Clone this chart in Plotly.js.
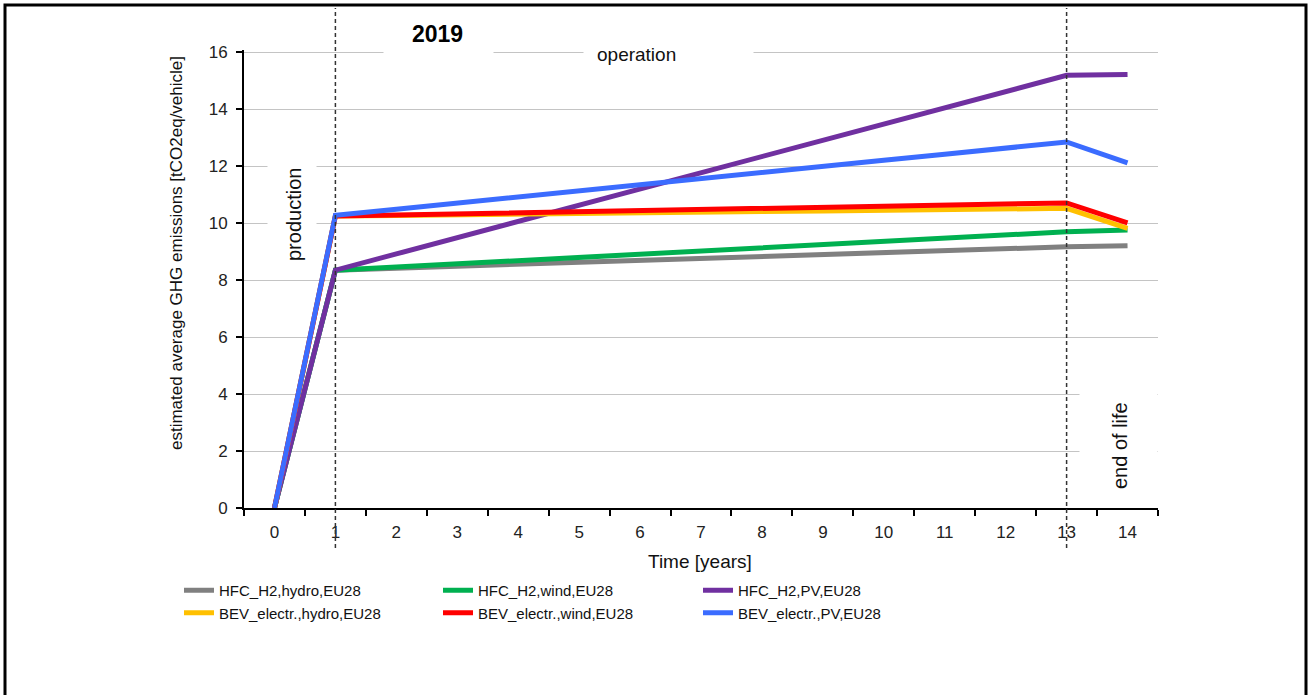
<!DOCTYPE html>
<html>
<head>
<meta charset="utf-8">
<script src="https://cdn.plot.ly/plotly-3.0.1.min.js"></script>
<style>
html,body{margin:0;padding:0;background:#fff;}
#chart{width:1309px;height:695px;}
</style>
</head>
<body>
<div id="chart"></div>
<script>
// ---- data ----
const years = ["0","1","2","3","4","5","6","7","8","9","10","11","12","13","14"];
const hfcHydro = [0, 8.35, 8.42, 8.49, 8.55, 8.62, 8.69, 8.76, 8.82, 8.89, 8.96, 9.03, 9.10, 9.17, 9.21];
const hfcWind  = [0, 8.35, 8.46, 8.57, 8.69, 8.80, 8.91, 9.02, 9.14, 9.25, 9.36, 9.47, 9.59, 9.70, 9.76];
const hfcPV    = [0, 8.35, 8.92, 9.49, 10.06, 10.63, 11.20, 11.77, 12.34, 12.91, 13.48, 14.05, 14.62, 15.19, 15.22];
const bevHydro = [0, 10.25, 10.27, 10.30, 10.32, 10.34, 10.36, 10.39, 10.41, 10.43, 10.45, 10.48, 10.50, 10.52, 9.82];
const bevWind  = [0, 10.25, 10.29, 10.33, 10.37, 10.40, 10.44, 10.48, 10.52, 10.56, 10.60, 10.63, 10.67, 10.71, 10.01];
const bevPV    = [0, 10.28, 10.49, 10.71, 10.92, 11.14, 11.35, 11.56, 11.78, 11.99, 12.21, 12.42, 12.64, 12.85, 12.12];
const seriesNames = ["HFC_H2,hydro,EU28","HFC_H2,wind,EU28","HFC_H2,PV,EU28",
                     "BEV_electr.,hydro,EU28","BEV_electr.,wind,EU28","BEV_electr.,PV,EU28"];
const yTicks = [0,2,4,6,8,10,12,14,16];
const phaseMarks = ["1","13"];
const chartTitle = "2019";
const phaseLabels = ["production","operation","end of life"];
const yTitle = "estimated average GHG emissions [tCO2eq/vehicle]";
const xTitle = "Time [years]";

// ---- geometry helpers (pixel -> paper) ----
const W = 1309, H = 695, L = 244, R = 151, T = 50, B = 187;
const PW = W - L - R, PH = H - T - B;
const px = v => (v - L) / PW;
const py = v => (H - B - v) / PH;

const FONT = "Liberation Sans, Arial, sans-serif";
const colors = ["#808080","#00b050","#7030a0","#ffc000","#ff0000","#3b6cff"];
const data = [hfcHydro,hfcWind,hfcPV,bevHydro,bevWind,bevPV];
const legendOf = ["legend","legend2","legend3","legend","legend2","legend3"];

const traces = data.map((d,i)=>({
  type:"scatter", mode:"lines", x: years, y: d, name: seriesNames[i],
  line:{color:colors[i], width:5}, legend: legendOf[i], hoverinfo:"skip"
}));

const shapes = [];
phaseMarks.forEach(m=>{
  shapes.push({type:"line", xref:"x", yref:"paper", x0:years.indexOf(m), x1:years.indexOf(m),
    y0:py(548), y1:py(8), line:{color:"#333", width:1.5, dash:"4px,3px"}, layer:"above"});
});
// outer frame
shapes.push({type:"rect", xref:"paper", yref:"paper", x0:px(5), x1:px(1306), y0:py(705), y1:py(5),
  line:{color:"#000", width:3}, fillcolor:"rgba(0,0,0,0)"});

function box(x0,x1,y0,y1){
  return {xref:"paper", yref:"paper", x:px(x0), y:py(y0), xanchor:"left", yanchor:"top",
    text:" ", showarrow:false, width:x1-x0, height:y1-y0, bgcolor:"#fff", borderpad:0};
}
const annotations = [
  box(383,492,36,64),
  box(583,752,38,68),
  box(267,315,152,272),
  box(1079,1156,385,500),
  {xref:"paper", yref:"paper", x:px(437), y:py(34), text:"<b>"+chartTitle+"</b>", showarrow:false,
   font:{family:FONT, size:23, color:"#000"}, xanchor:"center", yanchor:"middle"},
  {xref:"paper", yref:"paper", x:px(636), y:py(54), text:phaseLabels[1], showarrow:false,
   font:{family:FONT, size:19, color:"#111"}, xanchor:"center", yanchor:"middle"},
  {xref:"paper", yref:"paper", x:px(294), y:py(215), text:phaseLabels[0], showarrow:false, textangle:-90,
   font:{family:FONT, size:20, color:"#111"}, xanchor:"center", yanchor:"middle"},
  {xref:"paper", yref:"paper", x:px(1120), y:py(446), text:phaseLabels[2], showarrow:false, textangle:-90,
   font:{family:FONT, size:20, color:"#111"}, xanchor:"center", yanchor:"middle"},
  {xref:"paper", yref:"paper", x:px(176), y:py(253), text:yTitle, showarrow:false, textangle:-90,
   font:{family:FONT, size:17, color:"#111"}, xanchor:"center", yanchor:"middle"},
  {xref:"paper", yref:"paper", x:px(700), y:py(561), text:xTitle, showarrow:false,
   font:{family:FONT, size:19, color:"#111"}, xanchor:"center", yanchor:"middle"}
];

function leg(xpx){
  return {x:px(xpx), y:py(574), xanchor:"left", yanchor:"top", orientation:"v",
    font:{family:FONT, size:15, color:"#111"}, bgcolor:"rgba(0,0,0,0)", borderwidth:0,
    itemwidth:30, tracegroupgap:0, traceorder:"normal"};
}

const layout = {
  width:W, height:H, margin:{l:L, r:R, t:T, b:B, pad:0},
  paper_bgcolor:"#fff", plot_bgcolor:"#fff",
  showlegend:true,
  legend: leg(179), legend2: leg(438), legend3: leg(698),
  xaxis:{type:"category", categoryorder:"array", categoryarray:years, range:[-0.5,14.5],
    tickson:"boundaries", ticks:"outside", ticklen:6, tickwidth:2, tickcolor:"#000",
    showline:true, linecolor:"#000", linewidth:2, showgrid:false, zeroline:false,
    ticklabelstandoff:8,
    tickfont:{family:FONT, size:17, color:"#222"},
    fixedrange:true},
  yaxis:{range:[0,16.08], tickmode:"array", tickvals:yTicks, ticks:"outside", ticklen:6, tickwidth:2,
    tickcolor:"#000", showline:true, linecolor:"#000", linewidth:2,
    showgrid:true, gridcolor:"#c4c4c4", gridwidth:1, zeroline:false,
    ticklabelstandoff:5,
    tickfont:{family:FONT, size:17, color:"#222"},
    fixedrange:true},
  shapes:shapes, annotations:annotations
};

Plotly.newPlot("chart", traces, layout, {displayModeBar:false, staticPlot:true});
</script>
</body>
</html>
